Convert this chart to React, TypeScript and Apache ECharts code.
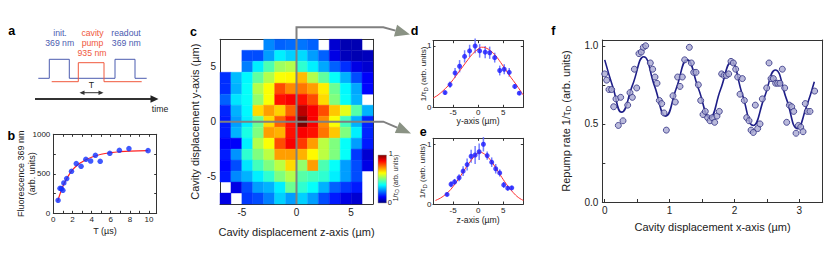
import React, { useEffect, useRef } from 'react';
import * as echarts from 'echarts';

const FONT = 'Liberation Sans';
const TXT = '#222';
const AXC = '#333';

// ---------- panel b : fluorescence vs T ----------
const bT = [0.5, 0.7, 0.85, 1.0, 1.1, 1.4, 1.9, 2.4, 2.9, 3.4, 3.9, 4.4, 4.9, 5.9, 6.9, 7.9, 9.9];
const bFluor = [165, 316, 312, 291, 384, 439, 532, 629, 595, 684, 662, 734, 658, 759, 797, 819, 793];
const bFitT = [0.45, 0.7, 1.1, 1.5, 2.0, 2.5, 3.0, 3.5, 4.0, 5.0, 6.0, 7.0, 8.0, 9.9];
const bFitF = [150, 245, 370, 460, 549, 608, 650, 684, 710, 747, 768, 780, 787, 793];
const bXLabels = [0, 2, 4, 6, 8, 10];
const bXTicks = [0, 1, 2, 3, 4, 5, 6, 7, 8, 9, 10];
const bYLabels = [0, 500, 1000];
const bYTicks = [0, 250, 500, 750, 1000];

// ---------- panel c : 2D map ----------
const cZCenters = [-6.5, -5.5, -4.5, -3.5, -2.5, -1.5, -0.5, 0.5, 1.5, 2.5, 3.5, 4.5, 5.5, 6.5];
const cYCenters = [7, 6, 5, 4, 3, 2, 1, 0, -1, -2, -3, -4, -5, -6, -7];
const cValues: (number | null)[][] = [
  [null, null, null, null, 0.26, 0.22, 0.23, 0.24, 0.22, null, 0.08, 0.05, 0.05, null],
  [null, null, 0.2, 0.2, 0.28, 0.36, 0.33, 0.34, 0.28, 0.22, 0.1, 0.06, 0.05, 0.06],
  [null, null, 0.25, 0.36, 0.45, 0.53, 0.55, 0.42, 0.36, 0.29, 0.22, 0.17, 0.1, 0.08],
  [0.17, 0.31, 0.37, 0.47, 0.55, 0.62, 0.63, 0.69, 0.55, 0.47, 0.38, 0.3, 0.2, 0.12],
  [0.17, 0.3, 0.38, 0.55, 0.62, 0.8, 0.74, 0.76, 0.72, 0.64, 0.48, 0.37, 0.29, 0.13],
  [0.22, 0.35, 0.38, 0.52, 0.62, 0.86, 0.88, 0.86, 0.8, 0.66, 0.5, 0.38, 0.3, null],
  [0.16, 0.3, 0.37, 0.66, 0.72, 0.67, 0.78, 0.94, 0.88, 0.8, 0.68, 0.6, 0.46, 0.3],
  [0.15, 0.28, 0.36, 0.48, 0.66, 0.78, 0.86, 1.0, 0.88, 0.74, 0.62, 0.44, 0.3, 0.16],
  [0.15, 0.3, 0.4, 0.5, 0.72, 0.7, 0.86, 0.88, 0.86, 0.76, 0.68, 0.5, 0.36, 0.16],
  [0.12, 0.12, 0.36, 0.55, 0.62, 0.8, 0.88, 0.82, 0.72, 0.56, 0.5, 0.38, 0.28, 0.15],
  [0.15, 0.27, 0.42, 0.5, 0.56, 0.72, 0.72, 0.7, 0.63, 0.56, 0.5, 0.38, 0.18, 0.08],
  [0.13, 0.2, 0.35, 0.44, 0.5, 0.56, 0.66, 0.52, 0.72, 0.45, 0.38, 0.28, 0.2, 0.1],
  [0.15, 0.26, 0.3, 0.36, 0.42, 0.5, 0.55, 0.46, 0.44, 0.42, 0.36, 0.28, 0.2, null],
  [null, 0.1, 0.2, 0.28, 0.3, 0.36, 0.48, 0.42, 0.38, 0.3, 0.22, 0.18, 0.15, null],
  [0.1, null, 0.18, 0.2, 0.25, 0.33, 0.28, 0.33, 0.28, 0.2, 0.15, 0.1, 0.08, null],
];
const cZLabels = [-5, 0, 5];
const cYLabels = [-5, 0, 5];
const jet = ['#00007f', '#0000ff', '#007fff', '#00ffff', '#7fff7f', '#ffff00', '#ff7f00', '#ff0000', '#7f0000'];

// ---------- panel d : y-axis cut ----------
const dX = [-6.6, -5.6, -4.6, -3.7, -2.7, -1.7, -0.6, 0.3, 1.4, 2.3, 3.3, 4.3, 5.2, 6.2, 7.3, 8.2];
const dY = [0.24, 0.37, 0.56, 0.67, 0.83, 0.92, 1.0, 0.92, 0.9, 0.89, 0.81, 0.6, 0.62, 0.57, 0.34, 0.23];
const dErr = [0.03, 0.05, 0.08, 0.1, 0.1, 0.1, 0.12, 0.11, 0.1, 0.1, 0.08, 0.08, 0.08, 0.07, 0.04, 0.03];
const dFitX = [-9, -8, -7, -6, -5, -4, -3, -2, -1, 0, 0.7, 1.5, 2.5, 3.5, 4.5, 5.5, 6.5, 7.5, 8.5, 9];
const dFitY = [0.15, 0.2, 0.27, 0.35, 0.45, 0.56, 0.67, 0.78, 0.88, 0.95, 0.98, 0.97, 0.92, 0.84, 0.73, 0.61, 0.49, 0.38, 0.26, 0.2];

// ---------- panel e : z-axis cut ----------
const eX = [-6.2, -5.4, -4.7, -3.8, -3.0, -2.2, -1.4, -0.6, 0.2, 1.05, 1.8, 2.7, 3.5, 4.3, 5.1, 5.9, 6.7];
const eY = [0.16, 0.33, 0.37, 0.44, 0.55, 0.66, 0.8, 0.82, 0.875, 1.0, 0.81, 0.7, 0.59, 0.52, 0.32, 0.265, 0.27];
const eErr = [0.03, 0.05, 0.05, 0.06, 0.08, 0.1, 0.11, 0.15, 0.14, 0.12, 0.07, 0.08, 0.08, 0.06, 0.05, 0.04, 0.03];
const eFitX = [-8.5, -7.5, -6.5, -5.5, -4.5, -3.5, -2.5, -1.5, -0.5, 0.3, 1, 2, 3, 4, 5, 6, 7, 8, 9];
const eFitY = [0.06, 0.1, 0.16, 0.24, 0.35, 0.47, 0.6, 0.72, 0.82, 0.87, 0.85, 0.78, 0.67, 0.54, 0.41, 0.29, 0.19, 0.11, 0.06];
const deXLabels = [-5, 0, 5];
const deYLabels = [0, 1];

// ---------- panel f : x-axis scan ----------
const fX = [0.0, 0.03, 0.066, 0.107, 0.138, 0.174, 0.21, 0.246, 0.282, 0.354, 0.39, 0.426, 0.457, 0.493, 0.528, 0.564, 0.595, 0.631, 0.703, 0.739, 0.775, 0.806, 0.842, 0.878, 0.914, 0.95, 1.052, 1.088, 1.124, 1.16, 1.196, 1.232, 1.304, 1.335, 1.371, 1.407, 1.443, 1.479, 1.515, 1.55, 1.586, 1.622, 1.658, 1.694, 1.73, 1.766, 1.802, 1.838, 1.874, 1.91, 1.946, 1.982, 2.018, 2.049, 2.085, 2.121, 2.152, 2.188, 2.224, 2.255, 2.29, 2.321, 2.357, 2.393, 2.429, 2.496, 2.532, 2.563, 2.599, 2.634, 2.665, 2.701, 2.737, 2.773, 2.804, 2.845, 2.881, 2.912, 2.948, 2.984, 3.02, 3.056, 3.091, 3.122, 3.163, 3.235];
const fY = [0.82, 0.78, 0.72, 0.72, 0.61, 0.66, 0.49, 0.67, 0.52, 0.62, 0.7, 0.67, 0.85, 0.73, 0.95, 0.96, 0.99, 1.0, 0.89, 0.85, 0.8, 0.76, 0.65, 0.63, 0.57, 0.46, 0.68, 0.64, 0.8, 0.74, 0.8, 0.91, 0.99, 0.89, 0.83, 0.83, 0.75, 0.65, 0.56, 0.58, 0.54, 0.52, 0.54, 0.51, 0.55, 0.58, 0.82, 0.81, 0.81, 0.82, 0.9, 0.89, 0.85, 0.8, 0.69, 0.79, 0.65, 0.54, 0.52, 0.46, 0.445, 0.62, 0.47, 0.5, 0.66, 0.73, 0.89, 0.79, 0.79, 0.76, 0.76, 0.76, 0.85, 0.73, 0.51, 0.62, 0.61, 0.58, 0.44, 0.49, 0.48, 0.45, 0.63, 0.58, 0.58, 0.71];
const fFitX = [0, 0.13, 0.26, 0.43, 0.6, 0.77, 0.94, 1.105, 1.27, 1.445, 1.62, 1.785, 1.95, 2.12, 2.29, 2.46, 2.63, 2.8, 2.97, 3.1, 3.23];
const fFitY = [0.91, 0.73, 0.575, 0.75, 0.93, 0.74, 0.55, 0.73, 0.91, 0.725, 0.54, 0.72, 0.895, 0.69, 0.49, 0.67, 0.845, 0.66, 0.47, 0.6, 0.77];
const fXLabels = [0, 1, 2, 3];
const fXTicks = [0, 0.5, 1, 1.5, 2, 2.5, 3];
const fYLabels = [0, 0.5, 1];
const fYTicks = [0, 0.25, 0.5, 0.75, 1];

function hexRgb(h: string) {
  return [parseInt(h.slice(1, 3), 16), parseInt(h.slice(3, 5), 16), parseInt(h.slice(5, 7), 16)];
}
function jetColor(v: number) {
  const t = Math.max(0, Math.min(1, v)) * (jet.length - 1);
  const i = Math.min(Math.floor(t), jet.length - 2);
  const f = t - i;
  const a = hexRgb(jet[i]);
  const b = hexRgb(jet[i + 1]);
  const c = a.map((x, k) => Math.round(x + (b[k] - x) * f));
  return `rgb(${c[0]},${c[1]},${c[2]})`;
}

const base = (grid: number, min: number, max: number, position: string) => ({
  type: 'value',
  gridIndex: grid,
  min,
  max,
  position,
  nameMoveOverlap: false,
  axisLine: { show: true, onZero: false, lineStyle: { color: AXC, width: 1 } },
  splitLine: { show: false },
  axisTick: { show: false },
  axisLabel: { show: false },
});
const ticks = (vals: number[], len = 3) => ({
  show: true,
  inside: true,
  length: len,
  customValues: vals,
  lineStyle: { color: AXC, width: 1 },
});
const labels = (vals: number[], fontSize: number, margin: number, formatter?: (v: number) => string) => ({
  show: true,
  customValues: vals,
  fontSize,
  margin,
  color: TXT,
  fontFamily: FONT,
  formatter: formatter || ((v: number) => String(v)),
});
const nameStyle = (fontSize: number, lineHeight: number) => ({ fontSize, lineHeight, color: TXT, fontFamily: FONT });

let measureCtx: CanvasRenderingContext2D | null = null;
function measure(s: string, fs: number) {
  if (!measureCtx) measureCtx = document.createElement('canvas').getContext('2d');
  measureCtx!.font = `${fs}px "${FONT}"`;
  return measureCtx!.measureText(s).width;
}
// rotated label with a subscript D, centred at (cx, cy)
function tauLabel(cx: number, cy: number, pre: string, fs: number, sfs: number, dy: number) {
  const parts: [string, number, number, number][] = [
    [pre + '1/τ', fs, 0, 0],
    ['D', sfs, dy, 0],
    ['(arb. units)', fs, 0, measure(' ', fs)],
  ];
  const widths = parts.map((p) => measure(p[0], p[1]) + p[3]);
  const W = widths.reduce((a, b) => a + b, 0);
  let x = -W / 2;
  const children = parts.map((p, i) => {
    const el = {
      type: 'text',
      x: x + p[3],
      y: p[2],
      style: { text: p[0], fontSize: p[1], fontFamily: FONT, fill: TXT, align: 'left', verticalAlign: 'middle' },
    };
    x += widths[i];
    return el;
  });
  return { type: 'group', x: cx, y: cy, rotation: Math.PI / 2, z: 100, children };
}

export default function App() {
  const ref = useRef<HTMLDivElement>(null);
  useEffect(() => {
    const chart = echarts.init(ref.current!, null, { renderer: 'svg' });

    const heatData: number[][] = [];
    cValues.forEach((row, i) =>
      row.forEach((v, j) => {
        if (v != null) heatData.push([cZCenters[j], cYCenters[i], v]);
      })
    );

    const errRender = (color: string) => (params: any, api: any) => {
      const x = api.value(0);
      const y = api.value(1);
      const e = api.value(2);
      const a = api.coord([x, y - e]);
      const b = api.coord([x, y + e]);
      return {
        type: 'line',
        shape: { x1: a[0], y1: a[1], x2: b[0], y2: b[1] },
        style: { stroke: color, lineWidth: 1.5, opacity: 0.85 },
      };
    };

    const option: any = {
      animation: false,
      textStyle: { fontFamily: FONT },
      grid: [
        { left: 53.3, top: 134.3, width: 103.4, height: 79 },
        { left: 220, top: 39.3, width: 153, height: 164.7 },
        { left: 433, top: 40.7, width: 90.3, height: 66.6 },
        { left: 433, top: 138.3, width: 90.3, height: 65.7 },
        { left: 602.3, top: 40, width: 220.4, height: 162 },
      ],
      xAxis: [
        { ...base(0, 0, 10.8, 'bottom'), axisTick: ticks(bXTicks, 2.5), axisLabel: labels(bXLabels, 8, 2), name: 'T (µs)', nameLocation: 'middle', nameGap: 12, nameTextStyle: nameStyle(9, 11) },
        { ...base(0, 0, 10.8, 'top'), axisTick: ticks(bXTicks, 2.5) },
        { ...base(1, -7, 7, 'bottom'), axisLabel: labels(cZLabels, 10, 3.5), name: 'Cavity displacement z-axis (µm)', nameLocation: 'middle', nameGap: 21.8, nameTextStyle: nameStyle(11, 13) },
        { ...base(1, -7, 7, 'top') },
        { ...base(2, -9, 9, 'bottom'), axisTick: ticks(deXLabels, 2.5), axisLabel: labels(deXLabels, 8, 1.5), name: 'y-axis (µm)', nameLocation: 'middle', nameGap: 8.5, nameTextStyle: nameStyle(8.7, 10) },
        { ...base(2, -9, 9, 'top'), axisTick: ticks(deXLabels, 2.5) },
        { ...base(3, -9, 9, 'bottom'), axisTick: ticks(deXLabels, 2.5), axisLabel: labels(deXLabels, 8, 2.5), name: 'z-axis (µm)', nameLocation: 'middle', nameGap: 11, nameTextStyle: nameStyle(8.7, 10) },
        { ...base(3, -9, 9, 'top'), axisTick: ticks(deXLabels, 2.5) },
        { ...base(4, -0.037, 3.359, 'bottom'), axisTick: ticks(fXTicks, 3), axisLabel: labels(fXLabels, 10, 3.5), name: 'Cavity displacement x-axis (µm)', nameLocation: 'middle', nameGap: 18.8, nameTextStyle: nameStyle(11, 13) },
        { ...base(4, -0.037, 3.359, 'top') },
      ],
      yAxis: [
        { ...base(0, 0, 1000, 'left'), axisTick: ticks(bYTicks, 2.5), axisLabel: labels(bYLabels, 8, 3), name: 'Fluorescence 369 nm\n(arb. units)', nameLocation: 'middle', nameRotate: 90, nameGap: 16, nameTextStyle: nameStyle(9, 11) },
        { ...base(0, 0, 1000, 'right'), axisTick: ticks(bYTicks, 2.5) },
        { ...base(1, -7.5, 7.5, 'left'), axisLabel: labels(cYLabels, 10, 4), name: 'Cavity displacement y-axis (µm)', nameLocation: 'middle', nameRotate: 90, nameGap: 18.5, nameTextStyle: nameStyle(11, 13) },
        { ...base(1, -7.5, 7.5, 'right') },
        { ...base(2, 0, 1.086, 'left'), axisTick: ticks(deYLabels, 2.5), axisLabel: labels(deYLabels, 8, 1.5) },
        { ...base(2, 0, 1.086, 'right'), axisTick: ticks(deYLabels, 2.5) },
        { ...base(3, 0, 1.1, 'left'), axisTick: ticks(deYLabels, 2.5), axisLabel: labels(deYLabels, 8, 1.5) },
        { ...base(3, 0, 1.1, 'right'), axisTick: ticks(deYLabels, 2.5) },
        { ...base(4, 0, 1.037, 'left'), axisTick: ticks(fYTicks, 3), axisLabel: labels(fYLabels, 10, 4, (v: number) => v.toFixed(1)) },
        { ...base(4, 0, 1.037, 'right') },
      ],
      series: [
        { type: 'line', xAxisIndex: 0, yAxisIndex: 0, data: bFitT.map((t, i) => [t, bFitF[i]]), smooth: 0.4, symbol: 'none', lineStyle: { color: '#ff2222', width: 1.2 }, z: 2 },
        { type: 'scatter', xAxisIndex: 0, yAxisIndex: 0, data: bT.map((t, i) => [t, bFluor[i]]), symbolSize: 5.5, itemStyle: { color: '#1030ff' }, z: 3 },
        {
          type: 'custom', xAxisIndex: 2, yAxisIndex: 2, data: heatData, encode: { x: 0, y: 1 }, z: 1,
          renderItem: (params: any, api: any) => {
            const x = api.value(0);
            const y = api.value(1);
            const v = api.value(2);
            const p0 = api.coord([x - 0.5, y + 0.5]);
            const p1 = api.coord([x + 0.5, y - 0.5]);
            const col = jetColor(v);
            return {
              type: 'rect',
              shape: { x: p0[0], y: p0[1], width: p1[0] - p0[0], height: p1[1] - p0[1] },
              style: { fill: col, stroke: col, lineWidth: 0.4 },
            };
          },
        },
        { type: 'custom', xAxisIndex: 4, yAxisIndex: 4, data: dX.map((x, i) => [x, dY[i], dErr[i]]), encode: { x: 0, y: 1 }, renderItem: errRender('#5a66ff'), z: 2 },
        { type: 'line', xAxisIndex: 4, yAxisIndex: 4, data: dFitX.map((x, i) => [x, dFitY[i]]), smooth: 0.4, symbol: 'none', lineStyle: { color: '#ff3030', width: 1 }, z: 3 },
        { type: 'scatter', xAxisIndex: 4, yAxisIndex: 4, data: dX.map((x, i) => [x, dY[i]]), symbolSize: 5, itemStyle: { color: '#1a1aff' }, z: 4 },
        { type: 'custom', xAxisIndex: 6, yAxisIndex: 6, data: eX.map((x, i) => [x, eY[i], eErr[i]]), encode: { x: 0, y: 1 }, renderItem: errRender('#5a66ff'), z: 2 },
        { type: 'line', xAxisIndex: 6, yAxisIndex: 6, data: eFitX.map((x, i) => [x, eFitY[i]]), smooth: 0.4, symbol: 'none', lineStyle: { color: '#ff3030', width: 1 }, z: 3 },
        { type: 'scatter', xAxisIndex: 6, yAxisIndex: 6, data: eX.map((x, i) => [x, eY[i]]), symbolSize: 5, itemStyle: { color: '#1a1aff' }, z: 4 },
        { type: 'line', xAxisIndex: 8, yAxisIndex: 8, data: fFitX.map((x, i) => [x, fFitY[i]]), smooth: 0.5, symbol: 'none', lineStyle: { color: '#1e1e88', width: 1.6 }, z: 2 },
        { type: 'scatter', xAxisIndex: 8, yAxisIndex: 8, data: fX.map((x, i) => [x, fY[i]]), symbolSize: 6, itemStyle: { color: '#a9a9d2', borderColor: '#2e2e82', borderWidth: 1 }, z: 3 },
      ],
    };
    chart.setOption(option);

    // ---- annotation graphics ----
    const toPx = (v: number[]) => chart.convertToPixel({ xAxisIndex: 2, yAxisIndex: 2 }, v) as number[];
    const origin = toPx([0, 0]);
    const tl = toPx([-7, 7.5]);
    const br = toPx([7, -7.5]);
    const cornerX = 383.3;
    const topY = 27.3;
    const GRAY = '#808080';
    const HEAD = '#8a9284';

    const arrowHead = (from: number[], tip: number[], len = 15, half = 6) => {
      const dx = tip[0] - from[0];
      const dy = tip[1] - from[1];
      const L = Math.hypot(dx, dy);
      const ux = dx / L;
      const uy = dy / L;
      const bx = tip[0] - ux * len;
      const by = tip[1] - uy * len;
      return {
        base: [bx, by],
        poly: { type: 'polygon', z: 100, shape: { points: [tip, [bx - uy * half, by + ux * half], [bx + uy * half, by - ux * half]] }, style: { fill: HEAD } },
      };
    };
    const a1 = arrowHead([cornerX, topY], [410, 34.5]);
    const a2 = arrowHead([cornerX, origin[1]], [411, 133.5]);

    const txt = (text: string, x: number, y: number, fontSize: number, fill = TXT, extra: any = {}) => ({
      type: 'text', x, y, z: 100,
      style: { text, fontSize, fontFamily: FONT, fill, align: 'center', verticalAlign: 'middle', ...extra },
    });
    const BLUE = '#4b5cb0';
    const RED = '#f0583c';

    const graphics: any[] = [
      // panel letters
      txt('a', 11.7, 30.5, 12.5, '#000', { fontWeight: 'bold' }),
      txt('b', 11.2, 135.8, 12.5, '#000', { fontWeight: 'bold' }),
      txt('c', 193.5, 31.7, 12.5, '#000', { fontWeight: 'bold' }),
      txt('d', 414.5, 30.7, 12.5, '#000', { fontWeight: 'bold' }),
      txt('e', 423.3, 132.2, 12.5, '#000', { fontWeight: 'bold' }),
      txt('f', 553.3, 30.7, 12.5, '#000', { fontWeight: 'bold' }),
      // panel a schematic
      { type: 'polyline', z: 100, shape: { points: [[38.3, 78.3], [49.3, 78.3], [49.3, 59.3], [69.3, 59.3], [69.3, 78.3], [115, 78.3], [115, 59.3], [135, 59.3], [135, 78.3], [146.7, 78.3]] }, style: { stroke: BLUE, lineWidth: 1, fill: null } },
      { type: 'polyline', z: 101, shape: { points: [[51.7, 81.7], [78.3, 81.7], [78.3, 62.7], [104, 62.7], [104, 81.7], [141.7, 81.7]] }, style: { stroke: RED, lineWidth: 1, fill: null } },
      { type: 'polyline', z: 100, shape: { points: [[81, 92.7], [102, 92.7]] }, style: { stroke: '#333', lineWidth: 1 } },
      { type: 'polygon', z: 100, shape: { points: [[79.5, 92.7], [84.5, 90.5], [84.5, 94.9]] }, style: { fill: '#333' } },
      { type: 'polygon', z: 100, shape: { points: [[103.5, 92.7], [98.5, 90.5], [98.5, 94.9]] }, style: { fill: '#333' } },
      txt('T', 91.5, 85, 8.7),
      { type: 'polyline', z: 100, shape: { points: [[35, 99], [152, 99]] }, style: { stroke: '#333', lineWidth: 1.8 } },
      { type: 'polygon', z: 100, shape: { points: [[158.5, 99], [150.5, 95.3], [150.5, 102.7]] }, style: { fill: '#222' } },
      txt('time', 160, 108.8, 8.7),
      txt('init.', 60, 33.3, 8.7, BLUE),
      txt('369 nm', 59.7, 43.3, 8.7, BLUE),
      txt('cavity', 92.5, 33.3, 8.7, RED),
      txt('pump', 92.5, 43.3, 8.7, RED),
      txt('935 nm', 92, 52.7, 8.7, RED),
      txt('readout', 126, 33.3, 8.7, BLUE),
      txt('369 nm', 126.3, 43.3, 8.7, BLUE),
      // crosshair + connectors in panel c
      { type: 'polyline', z: 99, shape: { points: [[origin[0], br[1]], [origin[0], topY], [cornerX, topY], a1.base] }, style: { stroke: GRAY, lineWidth: 2, fill: null } },
      a1.poly,
      { type: 'polyline', z: 99, shape: { points: [[tl[0], origin[1]], [cornerX, origin[1]], a2.base] }, style: { stroke: GRAY, lineWidth: 2, fill: null } },
      a2.poly,
      // colour bar
      {
        type: 'rect', z: 100, shape: { x: 378, y: 155, width: 8.5, height: 48 },
        style: {
          fill: new echarts.graphic.LinearGradient(0, 0, 0, 1, jet.slice().reverse().map((c, i, arr) => ({ offset: i / (arr.length - 1), color: c }))),
          stroke: '#999', lineWidth: 0.5,
        },
      },
      txt('1', 390.8, 153.8, 7.5),
      txt('0', 389.8, 202, 7.5),
      tauLabel(395.5, 178, '', 6.8, 5, 1.8),
      // rotated y titles with subscript
      tauLabel(423.3, 74, '', 8, 6, 2.2),
      tauLabel(422.7, 171, '', 8, 6, 2.2),
      tauLabel(565.7, 121, 'Repump rate ', 11, 8, 3),
    ];
    chart.setOption({ graphic: { elements: graphics } });

    return () => chart.dispose();
  }, []);
  return <div ref={ref} style={{ position: 'absolute', left: 0, top: 0, width: 831, height: 266 }} />;
}
